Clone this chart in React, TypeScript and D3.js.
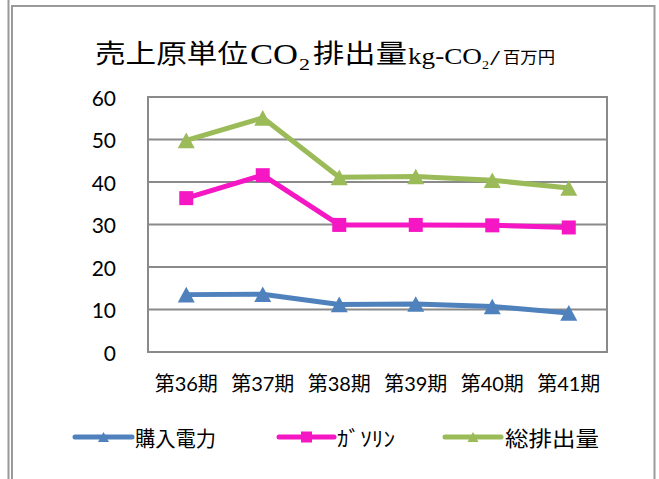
import React from "react";
import * as d3 from "d3";

const periods = ["第36期", "第37期", "第38期", "第39期", "第40期", "第41期"];
const electricity = [13.5, 13.6, 11.2, 11.3, 10.7, 9.2];
const gasoline = [36.2, 41.6, 29.9, 29.9, 29.8, 29.3];
const total = [49.8, 55.1, 41.1, 41.3, 40.4, 38.6];
const yTicks = [0, 10, 20, 30, 40, 50, 60];
const seriesNames = ["購入電力", "ｶﾞｿﾘﾝ", "総排出量"];

const W = 659;
const H = 479;
const plot = { left: 148, top: 97, right: 607, bottom: 352 };
const GRAY = "#8a8a8a";
const CJK = "'Noto Sans CJK JP', sans-serif";
const NUM = "Lato, 'Noto Sans CJK JP', sans-serif";
const SERIF = "'Liberation Serif', 'DejaVu Serif', serif";

type Series = { name: string; values: number[]; color: string; marker: "tri" | "sq" };

const series: Series[] = [
  { name: seriesNames[0], values: electricity, color: "#4F81BD", marker: "tri" },
  { name: seriesNames[1], values: gasoline, color: "#F516C4", marker: "sq" },
  { name: seriesNames[2], values: total, color: "#9BBB59", marker: "tri" },
];

function Marker({ kind, x, y, color, s }: { kind: string; x: number; y: number; color: string; s: number }) {
  if (kind === "sq") {
    return <rect x={x - s / 2} y={y - s / 2} width={s} height={s} fill={color} />;
  }
  const h = s * 0.92;
  return (
    <path
      d={`M${x},${y - h / 2} L${x + s / 2},${y + h / 2} L${x - s / 2},${y + h / 2} Z`}
      fill={color}
    />
  );
}

export default function App() {
  const x = d3.scalePoint<string>().domain(periods).range([plot.left, plot.right]).padding(0.5);
  const y = d3.scaleLinear().domain([0, 60]).range([plot.bottom, plot.top]);
  const line = d3
    .line<number>()
    .x((_, i) => x(periods[i]) as number)
    .y((d) => y(d));

  const legendItems = [
    { x0: 75, x1: 132, tx: 135, tl: 81 },
    { x0: 279, x1: 334, tx: 337, tl: 58 },
    { x0: 445, x1: 501, tx: 505, tl: 94 },
  ];
  const legendY = 437;

  return (
    <svg width={W} height={H} style={{ position: "absolute", left: 0, top: 0, background: "#fff" }}>
      <rect x={0} y={0} width={W} height={H} fill="#fff" />
      {/* outer frames */}
      <line x1={8.5} y1={0} x2={8.5} y2={H} stroke="#9a9a9a" strokeWidth={2} />
      <path d={`M12,${H} V6 H654.5 V${H}`} fill="none" stroke="#9a9a9a" strokeWidth={2} />

      {/* title */}
      <g fill="#000">
        <text x={95} y={63} fontFamily={CJK} fontSize={26} textLength={153} lengthAdjust="spacingAndGlyphs">売上原単位</text>
        <text x={250} y={64} fontFamily={SERIF} fontSize={29} textLength={48} lengthAdjust="spacingAndGlyphs">CO</text>
        <text x={299} y={70} fontFamily={SERIF} fontSize={17} textLength={11} lengthAdjust="spacingAndGlyphs">2</text>
        <text x={313} y={63} fontFamily={CJK} fontSize={26} textLength={94} lengthAdjust="spacingAndGlyphs">排出量</text>
        <text x={408} y={64} fontFamily={SERIF} fontSize={23} textLength={74} lengthAdjust="spacingAndGlyphs">kg-CO</text>
        <text x={482} y={69} fontFamily={SERIF} fontSize={13} textLength={7} lengthAdjust="spacingAndGlyphs">2</text>
        <text x={490} y={65} fontFamily={SERIF} fontSize={21} textLength={10} lengthAdjust="spacingAndGlyphs">/</text>
        <text x={503} y={63} fontFamily={CJK} fontSize={16} textLength={52} lengthAdjust="spacingAndGlyphs">百万円</text>
      </g>

      {/* gridlines */}
      {yTicks.map((t) => (
        <line key={t} x1={plot.left} x2={plot.right} y1={y(t)} y2={y(t)} stroke={GRAY} strokeWidth={2} />
      ))}
      <rect
        x={plot.left}
        y={plot.top}
        width={plot.right - plot.left}
        height={plot.bottom - plot.top}
        fill="none"
        stroke={GRAY}
        strokeWidth={2}
      />

      {/* y labels */}
      {yTicks.map((t) => (
        <text
          key={t}
          x={116}
          y={y(t)}
          textAnchor="end"
          dominantBaseline="central"
          fontFamily={NUM}
          fontSize={21}
          fill="#000"
        >
          {t}
        </text>
      ))}

      {/* x labels */}
      {periods.map((p) => (
        <text key={p} x={x(p)} y={391} textAnchor="middle" fontFamily={NUM} fontSize={20} fill="#000">
          {p}
        </text>
      ))}

      {/* series */}
      {series.map((s) => (
        <g key={s.name}>
          <path d={line(s.values) || ""} fill="none" stroke={s.color} strokeWidth={5} strokeLinejoin="round" strokeLinecap="round" />
          {s.values.map((v, i) => (
            <Marker
              key={i}
              kind={s.marker}
              x={x(periods[i]) as number}
              y={y(v)}
              color={s.color}
              s={s.marker === "sq" ? 14 : 17}
            />
          ))}
        </g>
      ))}

      {/* legend */}
      {series.map((s, i) => {
        const it = legendItems[i];
        return (
          <g key={s.name}>
            <line x1={it.x0} x2={it.x1} y1={legendY} y2={legendY} stroke={s.color} strokeWidth={5} strokeLinecap="round" />
            <Marker kind={s.marker} x={(it.x0 + it.x1) / 2} y={legendY} color={s.color} s={11} />
            <text
              x={it.tx}
              y={legendY}
              dominantBaseline="central"
              fontFamily={CJK}
              fontSize={21}
              fill="#000"
              textLength={it.tl}
              lengthAdjust="spacingAndGlyphs"
            >
              {s.name}
            </text>
          </g>
        );
      })}
    </svg>
  );
}
